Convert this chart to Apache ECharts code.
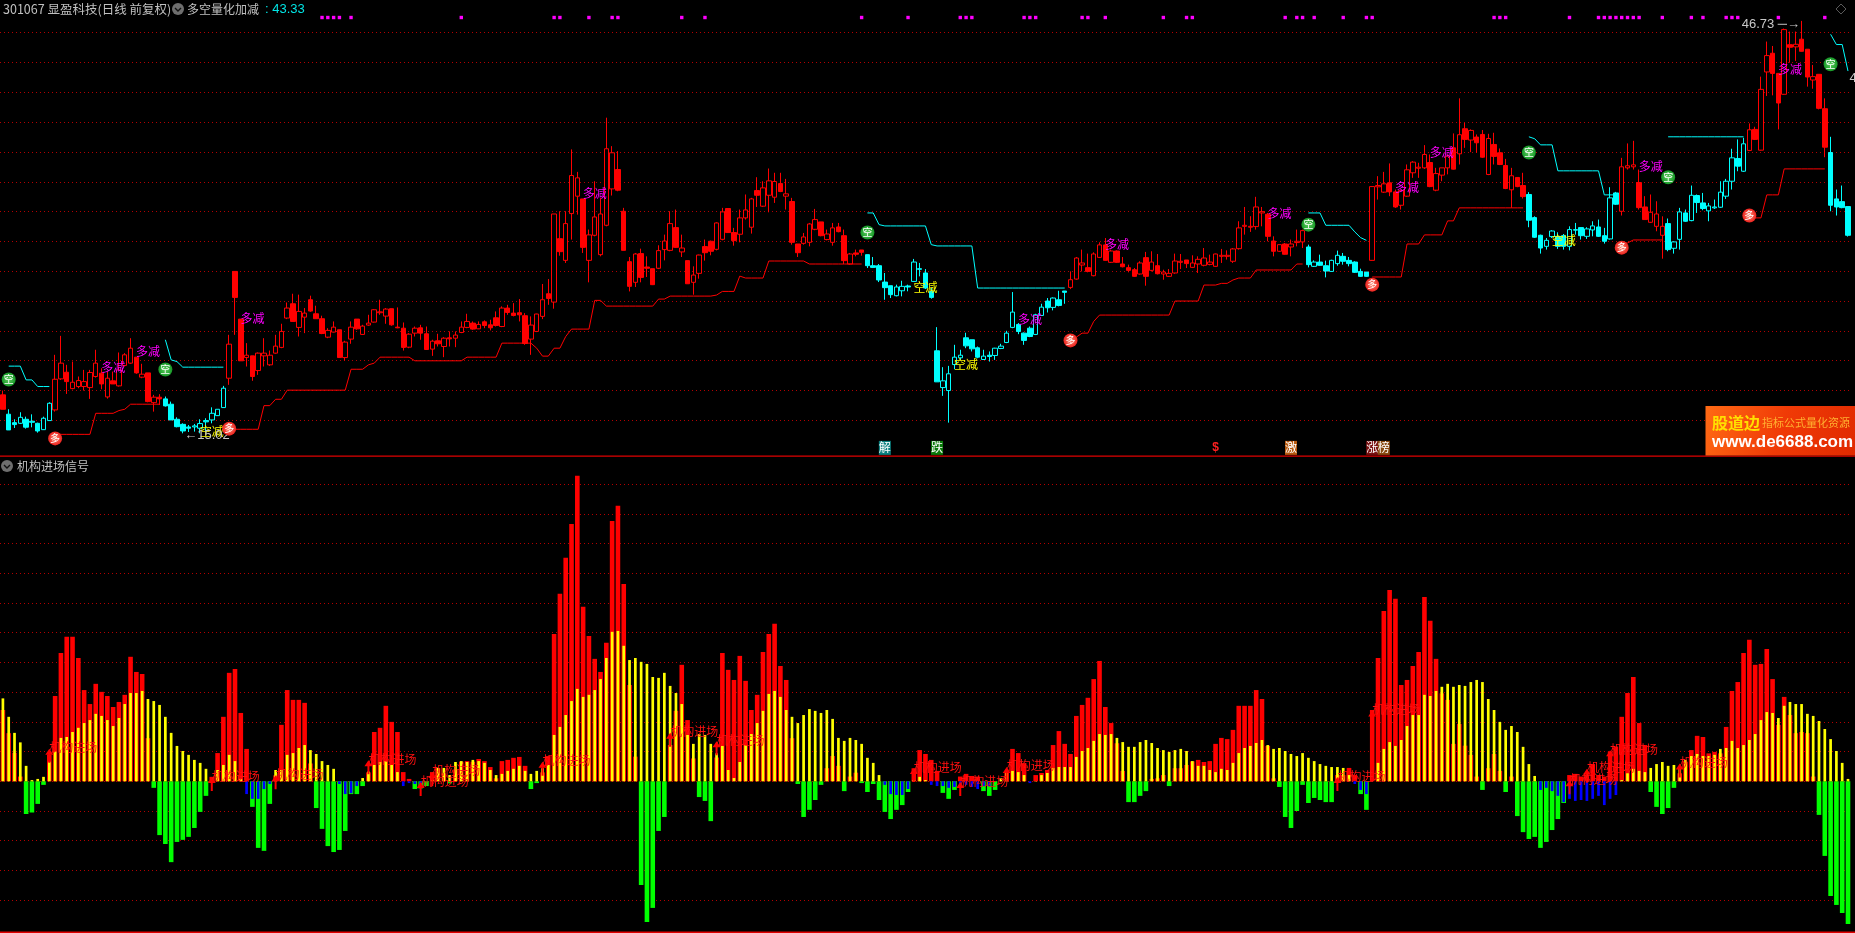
<!DOCTYPE html>
<html><head><meta charset="utf-8">
<style>html,body{margin:0;padding:0;background:#000;overflow:hidden}#c{width:1855px;height:933px}</style>
<script src="https://cdn.jsdelivr.net/npm/echarts@6/dist/echarts.min.js"></script>
</head><body><div id="c"></div>
<script>
const opens=[18.03,16.54,15.89,15.84,16.15,16.00,15.84,15.35,16.05,16.87,
19.26,19.77,18.51,18.67,18.67,18.59,19.44,19.70,17.87,19.11,
18.72,20.29,20.47,20.93,19.39,19.72,17.43,17.85,17.72,17.31,
16.15,15.76,15.56,15.56,15.46,16.05,16.10,16.43,17.05,19.31,
27.53,23.86,20.90,21.03,19.90,21.03,20.34,21.24,21.68,23.94,
25.04,23.22,24.01,25.35,24.27,23.89,22.47,22.86,23.04,20.90,
22.32,23.86,22.68,23.40,23.63,24.35,24.09,24.66,23.24,23.16,
21.70,22.78,23.19,22.73,21.55,22.19,21.75,22.42,22.39,22.83,
23.22,23.55,23.11,23.65,23.42,23.96,23.29,24.71,24.32,24.35,
24.12,22.32,22.91,24.07,25.81,25.17,30.05,28.38,31.98,33.32,
33.11,28.38,30.31,28.82,31.08,33.88,35.37,32.16,28.28,26.69,
28.90,27.87,27.74,27.77,29.21,29.15,30.90,29.03,28.36,26.69,
27.38,29.44,29.85,29.23,30.00,32.37,30.52,30.39,31.65,30.93,
33.75,32.55,33.39,33.24,34.29,33.32,32.91,29.64,29.69,29.77,
30.77,31.34,29.98,29.77,30.95,30.28,28.10,28.95,29.18,28.82,
27.97,27.97,26.71,26.43,25.66,26.04,26.41,26.76,27.74,27.41,
25.99,21.42,18.59,18.36,20.36,20.88,22.42,22.27,21.65,20.75,
21.08,21.06,21.60,22.06,23.22,23.45,22.78,23.16,22.68,24.14,
25.25,24.76,25.35,26.02,26.30,26.94,28.02,27.82,27.20,28.61,
29.57,28.23,29.10,28.10,27.82,27.66,27.33,28.59,27.61,27.97,
27.33,27.15,27.41,28.23,28.41,27.84,28.10,28.00,28.07,27.92,
28.69,28.69,28.31,29.28,31.00,30.93,30.98,32.03,31.93,29.87,
29.08,29.64,29.41,29.75,29.80,29.41,27.92,28.25,27.97,27.53,
28.13,28.69,28.38,28.25,27.53,27.48,28.38,34.04,33.63,34.35,
33.65,32.62,33.32,35.12,35.47,35.50,35.91,33.78,34.94,35.50,
37.04,36.58,38.51,37.64,37.87,38.07,34.99,37.30,36.66,35.68,
33.81,34.76,34.14,33.45,31.67,30.31,29.46,30.21,30.23,30.28,
29.46,30.70,30.90,30.23,30.72,30.95,30.28,30.03,33.57,32.16,
35.50,35.58,34.37,32.49,31.31,31.00,30.31,31.21,29.31,30.00,
32.03,31.44,33.37,32.80,32.19,32.42,32.47,33.32,34.47,36.22,
35.24,36.84,38.46,36.86,42.88,44.32,42.77,41.16,44.98,44.81,
45.40,44.63,42.26,42.70,40.05,36.68,33.11,32.90,32.52];
const closes=[16.92,15.33,15.74,16.30,15.54,15.92,15.25,16.23,17.38,19.23,
20.47,19.05,19.00,19.13,19.05,19.75,20.47,18.87,19.31,18.87,
19.95,21.11,21.62,19.72,19.62,17.51,17.85,17.72,17.18,16.10,
15.58,15.25,15.46,15.64,15.82,15.95,16.61,16.92,18.54,21.93,
25.53,20.65,21.08,19.44,21.24,21.24,21.08,21.78,22.91,24.71,
23.68,24.45,24.32,24.48,23.89,22.75,22.99,23.24,20.90,22.09,
23.24,23.11,23.32,23.55,24.58,24.42,24.63,23.42,23.19,21.68,
22.70,23.16,22.78,21.52,22.16,21.96,22.39,22.34,22.63,23.24,
23.68,23.09,23.45,23.37,23.19,23.37,24.71,24.37,24.14,24.19,
21.98,23.40,24.25,25.35,25.45,31.95,29.05,31.21,34.91,34.73,
29.38,30.34,31.72,31.95,36.97,36.66,33.78,29.15,26.38,28.87,
27.07,27.77,26.51,29.13,29.87,31.21,29.38,29.33,26.58,27.25,
28.79,28.97,29.08,31.26,32.11,30.52,29.90,31.65,32.26,33.11,
33.39,33.96,34.50,34.45,33.68,33.50,29.77,28.97,30.18,31.18,
31.52,30.28,30.41,30.88,30.59,28.36,28.87,28.85,29.00,27.97,
27.84,26.87,26.28,25.74,26.33,26.38,26.33,28.25,27.69,26.25,
25.53,19.03,19.11,19.65,20.93,21.08,21.80,21.57,20.93,21.01,
20.98,21.62,21.78,22.78,24.40,22.91,22.22,22.52,24.19,24.78,
24.73,25.48,24.91,25.92,26.89,28.56,28.18,27.53,28.87,29.57,
28.38,29.10,28.23,27.89,27.61,27.15,28.18,27.15,28.25,27.35,
27.48,27.38,28.33,28.31,28.13,28.18,28.46,28.56,28.25,28.87,
28.77,28.77,29.26,30.88,31.08,31.00,32.49,32.13,30.23,29.08,
29.59,28.85,29.64,29.85,30.67,28.05,28.25,28.00,27.56,28.38,
28.77,28.31,28.13,27.46,27.15,27.15,34.06,34.14,34.27,33.65,
32.49,33.75,35.35,35.94,35.55,36.53,34.06,35.06,35.50,36.40,
35.40,38.05,37.69,38.38,37.43,36.32,37.76,36.38,35.76,33.91,
34.89,34.06,33.29,31.47,30.16,29.33,29.92,30.64,29.46,29.46,
30.75,30.75,30.28,30.80,31.03,30.23,29.85,33.19,32.70,35.58,
35.66,35.73,32.44,31.52,32.08,31.95,31.00,29.21,29.80,32.11,
31.39,33.39,32.83,32.37,32.57,32.49,33.63,34.47,36.27,35.63,
37.35,38.43,37.69,41.54,44.14,42.77,40.49,46.14,44.78,45.01,
44.47,42.49,42.52,40.08,37.09,32.62,32.49,32.44,30.31];
const highs=[18.36,16.92,16.15,16.69,16.35,16.53,15.89,16.35,17.46,21.11,
22.57,20.34,20.59,19.44,19.95,19.95,21.50,20.08,19.82,19.82,
21.29,21.24,22.39,20.93,20.42,19.72,18.03,18.08,17.90,17.51,
16.30,15.84,15.71,15.79,16.15,16.23,17.07,16.92,18.72,22.65,
27.53,23.86,22.01,21.03,21.29,22.39,21.44,22.65,23.50,25.14,
25.81,25.74,24.71,25.66,24.89,24.12,23.16,23.68,23.04,22.19,
23.68,23.86,23.42,24.19,24.63,25.35,24.71,24.66,24.76,23.60,
22.78,23.29,23.42,23.29,22.27,22.73,22.47,22.91,22.91,23.68,
24.27,23.68,23.68,23.76,23.81,24.45,24.84,24.96,25.09,25.40,
24.32,24.07,24.27,26.56,26.94,31.95,32.16,32.16,36.92,35.19,
33.11,30.75,34.47,33.19,39.36,37.17,36.79,32.42,28.64,28.95,
29.28,28.69,27.74,29.54,30.36,32.16,32.29,30.36,28.36,27.92,
28.82,29.98,29.90,31.31,32.42,32.37,30.88,32.29,33.45,33.19,
34.78,34.47,35.45,35.12,35.12,34.65,33.19,29.64,30.49,31.26,
32.34,31.34,30.75,31.26,31.26,30.75,28.95,29.21,29.18,28.82,
28.64,28.10,27.41,26.43,26.51,26.81,26.51,28.49,28.18,27.71,
26.25,23.24,20.16,20.26,21.88,21.50,22.81,22.27,21.75,21.50,
21.37,21.65,21.96,22.96,25.94,23.55,22.83,23.29,24.27,25.04,
25.48,25.53,26.04,26.02,27.53,28.64,29.21,28.90,29.00,29.77,
30.10,29.21,29.15,28.64,28.05,27.79,28.31,29.03,29.08,28.87,
27.66,27.71,28.90,28.87,28.41,28.77,28.69,29.33,28.82,28.90,
29.26,29.15,29.33,31.39,32.49,31.78,33.27,32.49,32.03,30.23,
29.59,29.72,29.98,30.75,30.75,29.59,28.38,28.82,28.36,28.43,
29.13,28.95,28.64,28.31,27.74,27.48,34.09,34.86,35.19,35.84,
33.83,33.83,35.76,36.02,35.89,37.25,36.53,35.50,35.50,36.53,
38.15,40.85,38.97,38.46,38.07,38.41,38.12,38.20,36.99,36.19,
35.50,34.76,35.12,33.63,31.77,30.36,30.10,30.70,30.54,30.41,
31.00,31.26,30.90,30.93,31.39,31.52,30.88,34.01,33.65,36.27,
37.38,37.58,35.37,33.32,33.45,32.93,31.77,31.60,29.85,32.42,
32.29,34.14,33.45,33.57,32.80,33.06,34.47,34.65,36.97,37.69,
37.81,38.92,38.66,42.52,45.22,44.88,42.77,46.22,45.99,45.99,
46.81,44.63,43.42,42.70,40.85,37.89,33.83,34.14,32.52];
const lows=[16.92,15.33,15.48,15.79,15.43,15.53,15.12,15.33,16.05,16.74,
19.18,18.10,18.46,18.54,18.36,17.72,19.36,18.46,17.74,18.87,
18.67,20.21,20.42,19.65,19.31,17.46,16.74,17.25,17.13,16.10,
15.53,15.07,15.17,15.20,15.07,15.20,15.84,16.41,17.05,18.80,
22.65,20.65,20.21,19.11,19.57,20.21,20.26,21.19,21.62,23.86,
23.65,22.52,22.78,24.42,23.89,22.70,22.39,22.83,20.90,20.67,
21.96,23.04,22.65,23.35,23.60,24.19,23.50,23.35,23.16,21.44,
21.62,22.52,22.27,21.50,21.03,21.75,20.93,21.75,21.70,22.78,
23.16,23.04,23.09,23.16,22.99,23.29,23.24,24.19,24.07,23.68,
21.88,21.11,22.86,23.86,24.96,24.66,28.74,28.18,29.98,31.90,
28.95,26.69,30.23,28.69,31.00,33.37,33.70,29.15,25.99,26.33,
26.69,27.10,26.48,27.71,28.38,29.08,29.33,28.64,26.58,25.74,
26.97,28.36,28.77,29.15,29.92,30.49,29.51,29.77,31.52,30.44,
32.49,32.49,32.08,32.80,33.63,32.29,29.59,28.64,29.59,29.46,
30.70,30.23,29.92,29.51,30.54,28.10,28.05,28.69,28.74,27.79,
27.79,26.71,25.35,25.48,25.61,25.61,26.00,26.71,27.15,26.17,
25.43,19.03,17.95,15.89,20.00,20.72,21.62,21.37,20.85,20.72,
20.59,20.72,21.55,22.01,23.16,22.70,21.88,22.47,22.63,24.12,
24.37,24.53,24.84,25.04,26.17,26.89,27.53,27.46,27.15,28.56,
28.36,28.18,28.18,27.84,27.46,27.10,27.28,26.43,27.53,27.30,
26.89,27.10,27.35,27.71,27.79,27.79,27.41,27.92,28.00,27.89,
28.18,28.44,28.18,29.21,30.36,30.57,30.75,31.00,29.85,28.69,
29.03,28.82,28.69,29.46,29.33,27.84,27.87,27.97,27.07,27.51,
27.97,28.05,27.92,27.41,27.10,27.10,28.36,33.06,33.57,33.32,
32.42,32.29,33.27,34.73,34.73,35.42,34.01,33.70,34.47,35.00,
35.37,35.76,37.04,36.71,36.66,36.27,34.94,35.76,35.71,33.86,
32.42,34.01,33.14,30.93,30.10,28.90,29.21,30.10,29.26,29.21,
29.15,30.36,29.98,30.03,30.23,30.18,29.67,29.98,32.65,31.83,
35.37,35.37,32.29,31.52,31.26,30.62,28.51,29.08,28.90,29.21,
31.34,31.39,32.03,32.24,31.39,32.34,32.42,33.11,33.83,35.24,
35.19,36.79,37.64,36.84,41.03,41.08,38.46,41.13,43.60,43.73,
44.45,41.75,41.59,40.00,36.32,32.16,31.83,32.39,30.21];
const cyanRanges=[[1,8],[28,38],[149,183],[225,235],[263,278],[287,300],[315,318]];
const redStairs=[[9,15,14.99],[16,19,16.61],[20,20,16.82],[21,21,16.92],[22,27,17.31],
[39,44,15.38],[45,46,17.2],[47,48,17.69],[49,59,18.39],[60,62,20.0],[63,63,20.34],[64,64,20.47],[65,70,20.93],[71,79,20.65],[80,85,20.93],[86,91,22.01],[92,92,21.62],[93,94,21.01],[95,96,21.62],[97,97,22.52],[98,101,23.09],[102,103,25.30],[104,112,24.86],[113,114,25.40],[115,122,25.63],[123,123,25.71],[124,126,25.99],[127,127,27.17],[128,131,27.02],[132,138,28.33],[139,148,28.10],
[184,185,22.47],[186,187,22.78],[188,188,23.68],[189,201,24.17],[202,206,25.25],[207,209,26.48],[210,211,26.61],[212,212,26.87],[213,215,27.02],[216,222,27.64],[223,224,28.10],
[236,241,27.10],[242,244,29.64],[245,248,30.34],[249,250,31.42],[251,262,32.42],
[279,280,29.72],[281,286,29.95],
[301,303,31.65],[304,306,33.42],[307,314,35.42]];
const cyanStairs=[[1,3,20.24],[4,5,19.18],[6,8,18.67],
[28,28,22.27],[29,29,20.72],[30,30,20.59],[31,38,20.16],
[149,150,32.03],[151,151,31.13],[152,159,31.03],[160,160,29.59],[161,167,29.49],[168,183,26.25],
[225,227,32.03],[228,232,31.08],[233,233,30.57],[234,234,30.13],[235,235,29.92],
[263,263,37.89],[264,264,37.74],[265,267,37.27],[268,275,35.27],[276,278,33.42],
[287,300,37.89],
[315,315,45.78],[316,317,44.99],[318,318,42.95]];
const topDots=[55,56,57,58,60,79,95,96,101,105,106,117,121,148,156,165,166,167,176,177,178,186,187,190,200,204,205,221,223,224,226,231,235,236,257,258,259,270,275,276,277,278,279,280,281,282,286,291,293,297,298,299,306,314];
const topDotLevel=47.07;
const longSignals=[[9,14.68],[39,15.43],[184,22.22],[236,26.51],[279,29.36],[301,31.83]];
const shortSignals=[[1,19.21],[28,19.98],[149,30.52],[225,31.13],[263,36.68],[287,34.78],[315,43.47]];
const longCutLabels=[[19,20.13],[25,21.34],[43,23.94],[102,33.52],[177,23.81],[192,29.64],[220,32.03],[242,34.01],[248,36.66],[284,35.58],[308,43.06]];
const shortCutLabels=[[36,15.2],[159,26.3],[166,20.34],[269,29.92]];
const flags=[[152,'解','#0b7f7f'],[161,'跌','#0a7a0a'],[222,'激','#b85a10'],[236,'涨','#7a1010'],[238,'榜','#8a4a10']];
const flagLevel=13.95;
const priceNotes=[[31,14.89,'←15.02','right'],[310,46.55,'46.73 ─→','left'],[318,42.36,'43.33','right']];
const mainBars=[24.0,16.2,9.6,1.6,-11.0,-10.5,-7.6,-1.2,9.0,28.7,
43.2,48.6,48.6,41.5,30.7,26.0,32.8,30.1,28.7,25.0,
26.7,29.1,41.9,36.8,36.1,14.5,-2.2,-18.1,-21.1,-27.2,
-20.4,-19.7,-18.7,-15.7,-10.3,-4.9,1.5,9.5,21.7,36.5,
37.8,23.0,10.9,-8.6,-22.4,-23.4,-7.6,2.0,19.0,30.7,
27.4,27.4,26.4,6.0,-9.0,-16.0,-21.8,-23.8,-23.1,-16.7,
-4.3,-4.3,-1.6,3.0,16.6,18.0,25.4,20.0,16.6,3.1,
0.8,-2.6,-2.4,-1.6,3.1,4.4,2.7,-0.7,4.0,6.6,
6.8,6.6,7.5,6.8,4.8,1.0,6.8,7.2,7.9,8.2,
5.2,-2.6,-0.6,3.0,8.5,49.6,63.1,75.2,86.6,102.8,
58.7,48.9,41.2,36.8,46.6,87.6,92.7,66.4,32.4,8.3,
-34.9,-47.3,-42.6,-16.7,-12.0,12.2,23.7,39.2,20.6,7.7,
-5.3,-6.6,-13.4,8.0,43.2,37.5,34.1,42.2,33.8,24.0,
29.1,43.5,49.6,53.0,38.8,34.1,14.5,-0.9,-12.0,-9.6,
-6.3,-1.2,4.4,8.5,5.2,-3.3,1.6,2.9,-0.6,-3.6,
-0.9,-6.3,-10.3,-12.7,-9.6,-8.0,-3.6,4.4,10.5,9.2,
7.2,3.5,-3.9,-5.9,-2.9,1.6,2.5,1.8,1.6,-3.3,
-4.9,-2.9,0,3.3,10.9,9.5,6.1,0,2.1,2.8,
3.8,12.2,16.9,12.6,9.2,22.0,25.7,28.1,34.4,40.5,
25.0,19.6,12.8,3.5,-7.0,-7.0,-4.9,-3.3,0.8,1.0,
2.1,-1.6,4.4,4.4,5.5,6.7,7.2,6.5,6.8,12.6,
14.6,14.2,17.3,25.4,25.4,25.4,30.7,27.7,11.9,1.0,
-1.9,-12.0,-15.7,-10.0,-1.2,-7.3,-5.6,-6.3,-7.0,-7.0,
2.1,2.1,4.5,2.1,-4.3,-9.6,24.0,41.5,57.3,64.4,
61.4,32.4,34.1,38.8,43.5,62.0,54.0,41.2,29.6,27.4,
12.6,19.3,12.0,8.9,1.6,-2.9,4.4,9.2,3.5,-3.6,
1.6,-11.7,-17.1,-19.4,-18.7,-22.4,-20.4,-16.4,-12.7,-7.3,
2.1,2.5,1.6,2.1,5.8,2.1,1.6,10.0,11.7,21.7,
29.7,35.1,19.6,12.2,-3.6,-8.6,-11.0,-9.0,-2.2,2.7,
6.6,10.5,15.3,14.9,9.4,9.9,9.4,18.3,30.4,33.4,
43.2,47.6,39.2,39.5,44.5,34.4,19.0,28.4,22.3,16.2,
16.6,16.2,1.6,-11.3,-25.1,-38.6,-41.6,-44.3,-48.0];
const yellowBars=[27.9,21.7,16.3,13.1,5.2,0.4,0.8,1.5,6.6,10.0,
14.6,14.9,16.6,18.0,19.6,20.6,22.7,22.0,20.6,18.6,
21.3,26.0,29.7,29.7,30.4,27.7,27.0,25.7,21.7,16.3,
11.9,10.2,8.9,7.2,6.2,4.2,0.4,3.8,5.5,8.9,
6.8,0.8,0,0,0,0,0,3.8,3.8,8.9,
9.5,11.2,12.2,10.5,9.2,6.8,5.5,4.2,0,0,
0,0,1.1,3.3,5.5,6.5,6.8,5.5,3.1,0,
0,0,0,0,0.4,4.5,4.5,2.1,6.5,6.8,
6.5,7.2,6.8,6.2,3.8,2.1,2.5,3.5,4.2,5.2,
3.5,2.5,3.5,4.4,5.5,15.6,18.3,22.3,27.0,31.1,
28.4,29.1,30.7,34.4,41.5,50.3,50.6,45.6,40.8,41.5,
40.2,39.5,35.1,34.8,36.5,32.1,29.7,26.0,15.6,12.6,
15.9,15.6,12.6,9.4,11.9,3.8,1.1,6.5,12.2,15.9,
19.6,23.7,29.4,30.4,28.4,24.0,21.7,19.6,22.3,24.3,
23.7,23.0,24.0,21.0,14.6,13.6,14.6,13.9,12.6,7.9,
6.2,2.1,0,0,0,0,0,0.4,1.5,0.4,
0,0,0,0,0,0,0,0,0,0,
0,0,1.0,3.8,3.5,3.1,2.1,0,0.1,2.1,
2.8,4.5,4.8,4.8,4.8,8.2,10.2,11.2,13.6,15.9,
15.6,15.9,14.6,13.2,11.6,11.6,13.2,13.9,12.9,11.2,
10.5,9.9,10.5,10.9,10.2,6.8,5.2,5.2,3.8,3.1,
4.2,3.8,6.2,9.5,11.2,11.9,12.9,13.9,12.2,10.9,
11.2,10.2,9.2,8.5,9.5,7.9,6.8,5.8,5.2,4.8,
4.8,4.5,2.1,0,0,0,0,6.2,10.9,13.2,
11.9,13.9,18.6,22.3,22.3,29.1,28.7,30.4,31.8,32.8,
31.8,32.4,32.1,33.4,34.1,33.4,27.7,24.0,20.0,17.3,
18.6,16.6,11.6,5.8,1.8,0,0,0,0,0,
0,0,0,0,0,0,0,0,0,0.4,
2.7,4.2,3.5,3.1,4.5,5.8,6.5,5.2,5.5,4.4,
7.2,8.5,9.2,8.5,8.5,8.9,10.9,11.2,13.6,11.2,
12.2,13.9,15.9,20.6,23.3,23.0,21.3,25.4,26.7,26.0,
26.0,22.7,22.0,20.3,17.6,14.2,10.2,6.2,0.8];
const blueIndex=[42,43,44,45,46,58,59,60,61,69,70,71,72,152,153,154,155,156,160,161,162,163,164,165,166,167,168,169,170,177,233,234,235,265,266,267,268,269,270,271,272,273,274,275,276,277,278];
const blueValues=[-4.3,-5.9,-5.9,-2.6,-0.9,-0.9,-4.3,-4.0,-1.6,-1.6,-0.6,-0.9,-1.2,-1.2,-4.3,-4.6,-4.6,-2.6,-1.2,-1.6,-1.6,-2.2,-1.9,-1.2,-1.2,-1.9,-2.6,-1.6,-1.6,-0.6,-0.9,-2.9,-4.3,-2.9,-2.2,-3.3,-4.9,-7.0,-5.9,-6.6,-6.3,-6.6,-5.9,-4.9,-8.0,-5.9,-4.6];
const entrySignals=[[8,8.6],[36,-0.9],[47,-0.3],[63,4.7],[72,-2.6],[74,0.8],[93,4.2],[115,14.0],[123,11.1],[157,2.1],[165,-2.6],[173,2.5],[230,-0.9],[236,21.5],[270,-2.0],[273,1.9],[277,8.1],[289,3.6]];
const entryText='机构进场';
const headerCode='301067 显盈科技(日线 前复权)';
const headerName='多空量化加减';
const headerValue=': 43.33';
const lowerTitle='机构进场信号';

const N=opens.length;
const categories=opens.map((_,i)=>String(i));
const CJK='"Noto Sans CJK SC",sans-serif';
const isCyan=i=>cyanRanges.some(r=>i>=r[0]&&i<=r[1]);
const candles=opens.map((o,i)=>[i,o,closes[i],lows[i],highs[i]]);
const expand=runs=>{const a=new Array(N).fill(null);runs.forEach(r=>{for(let i=r[0];i<=r[1];i++)a[i]=r[2];});return a;};
const blueFull=new Array(N).fill(0);blueIndex.forEach((k,j)=>blueFull[k]=blueValues[j]);
const clear={color:'rgba(0,0,0,0)',opacity:1};

const candle=(name,col,data)=>({type:'candlestick',name,xAxisIndex:0,yAxisIndex:0,barWidth:5,z:3,
  encode:{x:0,y:[1,2,3,4]},data,
  itemStyle:{color:'#000',color0:col,borderColor:col,borderColor0:col,borderWidth:1}});
const textSeries=(pts,text,color)=>({type:'scatter',xAxisIndex:0,yAxisIndex:0,z:8,symbolSize:1,
  itemStyle:clear,data:pts,silent:true,
  label:{show:true,position:'inside',formatter:text,color,fontSize:12,fontFamily:CJK}});
const circleSeries=(pts,text,c0,c1)=>({type:'scatter',xAxisIndex:0,yAxisIndex:0,z:9,symbol:'circle',symbolSize:14,data:pts,silent:true,
  itemStyle:{opacity:1,color:{type:'radial',x:.5,y:.5,r:.6,colorStops:[{offset:0,color:c0},{offset:1,color:c1}]}},
  label:{show:true,position:'inside',formatter:text,color:'#fff',fontSize:10,fontFamily:CJK}});
const stair=(data,color)=>({type:'line',xAxisIndex:0,yAxisIndex:0,z:4,data,symbol:'none',connectNulls:false,
  lineStyle:{color,width:1},itemStyle:{color}});
const dotted={show:true,showMinLine:false,showMaxLine:false,lineStyle:{color:'#b40000',width:1,type:[1,3]}};
const hiddenX=g=>({type:'category',gridIndex:g,data:categories,show:false,boundaryGap:true});
const chev=(x,y)=>[{type:'circle',shape:{cx:x,cy:y,r:6},style:{fill:'#6e6e6e'},z:20},
 {type:'polyline',shape:{points:[[x-3,y-1],[x,y+2],[x+3,y-1]]},style:{stroke:'#111',lineWidth:1.4,fill:null},z:21}];

const option={
 backgroundColor:'#000',animation:false,
 grid:[{left:-1.5,top:2.9,width:1852.4,height:447.3},{left:-1.5,top:454.4,width:1852.4,height:475.5}],
 xAxis:[hiddenX(0),hiddenX(1),hiddenX(1),hiddenX(1)],
 yAxis:[
  {type:'value',gridIndex:0,min:13.77,max:48.195,interval:2.295,axisLine:{show:false},axisTick:{show:false},axisLabel:{show:false},splitLine:dotted},
  {type:'value',gridIndex:1,min:-50,max:110,interval:10,axisLine:{show:false},axisTick:{show:false},axisLabel:{show:false},splitLine:dotted}],
 series:[
  candle('red',"#ff0000",candles.filter(c=>!isCyan(c[0]))),
  candle('cyan',"#00ffff",candles.filter(c=>isCyan(c[0]))),
  stair(expand(redStairs),'#ff0000'),
  stair(expand(cyanStairs),'#00ffff'),
  {type:'scatter',xAxisIndex:0,yAxisIndex:0,symbol:'rect',symbolSize:3.4,z:5,silent:true,itemStyle:{color:'#ff00ff',opacity:1},data:topDots.map(i=>[i,topDotLevel])},
  textSeries(longCutLabels,'多减','#ff00ff'),
  textSeries(shortCutLabels,'空减','#ffff00'),
  circleSeries(longSignals,'多','#ff9078','#e80a0a'),
  circleSeries(shortSignals,'空','#5fd05f','#078c1c'),
  {type:'scatter',xAxisIndex:0,yAxisIndex:0,z:8,symbolSize:1,silent:true,itemStyle:clear,data:flags.map(f=>({value:[f[0],flagLevel],
     label:{show:true,position:'inside',formatter:f[1],color:'#fff',fontSize:12,fontFamily:CJK,backgroundColor:f[2],padding:[1,0,1,0]}}))},
  {type:'scatter',xAxisIndex:0,yAxisIndex:0,z:8,symbolSize:1,silent:true,itemStyle:clear,data:[[209,flagLevel]],
     label:{show:true,position:'inside',formatter:'$',color:'#ff2020',fontSize:12,fontWeight:'bold',fontFamily:'"Liberation Sans"'}},
  {type:'scatter',xAxisIndex:0,yAxisIndex:0,z:8,symbolSize:1,silent:true,itemStyle:clear,data:priceNotes.map(p=>({value:[p[0],p[1]],
     label:{show:true,position:p[3],distance:1,formatter:p[2],color:'#c8c8c8',fontSize:13,fontFamily:'"Liberation Sans"'}}))},
  {type:'bar',xAxisIndex:1,yAxisIndex:1,barWidth:4.6,z:2,silent:true,data:mainBars.map(v=>({value:v,itemStyle:{color:v>=0?'#ff0000':'#00ff00'}}))},
  {type:'bar',xAxisIndex:3,yAxisIndex:1,barWidth:2.7,z:3,silent:true,itemStyle:{color:'#0000ff'},data:blueFull},
  {type:'bar',xAxisIndex:2,yAxisIndex:1,barWidth:2.7,z:3,silent:true,itemStyle:{color:'#ffff00'},data:yellowBars},
  {type:'scatter',xAxisIndex:1,yAxisIndex:1,z:6,silent:true,symbol:'path://M4 0L8 6H5V14H3V6H0Z',symbolSize:[8,14],
   itemStyle:{color:'#ff0000',opacity:1},data:entrySignals,
   label:{show:true,position:'right',distance:-4,offset:[0,-8],formatter:entryText,color:'#ff1010',fontSize:12,fontFamily:CJK}}
 ],
 graphic:[
  {type:'rect',shape:{x:0,y:455.5,width:1855,height:1.2},style:{fill:'#e00000'},z:10},
  {type:'rect',shape:{x:0,y:931.6,width:1855,height:1.4},style:{fill:'#e00000'},z:10},
  {type:'text',style:{x:3,y:9,text:headerCode,fill:'#c0c0c0',font:'12.5px '+CJK,textVerticalAlign:'middle'},z:20},
  ...chev(178,9),
  {type:'text',style:{x:187,y:9,text:headerName,fill:'#c0c0c0',font:'12px '+CJK,textVerticalAlign:'middle'},z:20},
  {type:'text',style:{x:265,y:9,text:headerValue,fill:'#00e5e5',font:'13px "Liberation Sans"',textVerticalAlign:'middle'},z:20},
  ...chev(7,466),
  {type:'text',style:{x:17,y:466,text:lowerTitle,fill:'#c0c0c0',font:'12px '+CJK,textVerticalAlign:'middle'},z:20},
  {type:'polygon',shape:{points:[[1841,4],[1846,9],[1841,14],[1836,9]]},style:{fill:null,stroke:'#5a5a5a',lineWidth:1},z:20},
  {type:'rect',shape:{x:1705.5,y:406,width:150,height:49.5},z:30,style:{fill:{type:'linear',x:0,y:0,x2:1,y2:1,colorStops:[{offset:0,color:'#ff6a14'},{offset:.5,color:'#f03a06'},{offset:1,color:'#e02a00'}]}}},
  {type:'text',z:31,style:{x:1712,y:423,text:'股道边',fill:'#ffe000',font:'bold 16px '+CJK,textVerticalAlign:'middle'}},
  {type:'text',z:31,style:{x:1762,y:423,text:'指标公式量化资源',fill:'#ffb030',font:'11px '+CJK,textVerticalAlign:'middle'}},
  {type:'text',z:31,style:{x:1712,y:442,text:'www.de6688.com',fill:'#ffffff',font:'bold 17px "Liberation Sans"',textVerticalAlign:'middle'}}
 ]
};
echarts.init(document.getElementById('c'),null,{renderer:'canvas'}).setOption(option);
</script></body></html>
